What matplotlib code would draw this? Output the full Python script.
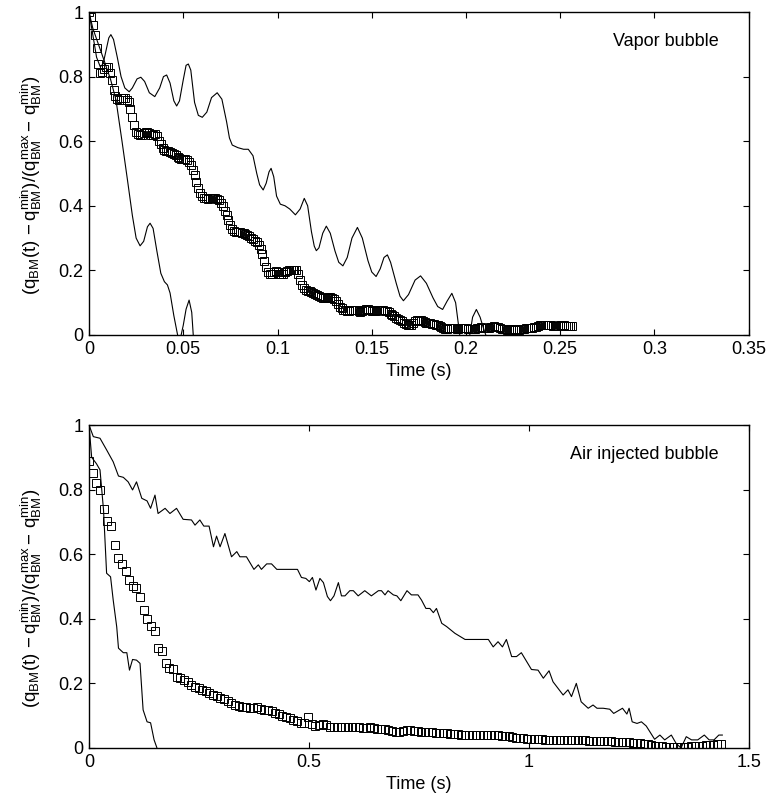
import numpy as np
import matplotlib
matplotlib.use("Agg")
import matplotlib.pyplot as plt
from matplotlib.ticker import FuncFormatter

plt.rcParams['font.family'] = ['Liberation Sans', 'DejaVu Sans']
plt.rcParams['mathtext.fontset'] = 'custom'
plt.rcParams['mathtext.rm'] = 'Liberation Sans'
plt.rcParams['mathtext.it'] = 'Liberation Sans'
plt.rcParams['mathtext.bf'] = 'Liberation Sans:bold'

# ---- top panel: vapor bubble ----
# measured (squares), sampled every 1 ms
vap_dt = 0.001
vap_meas = [
    1.00, 0.985, 0.96, 0.93, 0.89, 0.84, 0.81, 0.815, 0.825, 0.83,
    0.83, 0.81, 0.79, 0.76, 0.74, 0.73, 0.728, 0.733, 0.735, 0.733,
    0.728, 0.72, 0.70, 0.675, 0.65, 0.63, 0.622, 0.618, 0.62, 0.625,
    0.628, 0.628, 0.625, 0.62, 0.62, 0.622, 0.615, 0.60, 0.59, 0.578,
    0.572, 0.57, 0.57, 0.568, 0.565, 0.56, 0.556, 0.552, 0.548, 0.546,
    0.545, 0.545, 0.542, 0.535, 0.525, 0.51, 0.495, 0.475, 0.455, 0.44,
    0.43, 0.425, 0.423, 0.422, 0.423, 0.425, 0.425, 0.423, 0.42, 0.418,
    0.41, 0.40, 0.385, 0.37, 0.355, 0.34, 0.328, 0.322, 0.32, 0.32,
    0.318, 0.316, 0.315, 0.312, 0.31, 0.305, 0.30, 0.296, 0.292, 0.288,
    0.28, 0.265, 0.25, 0.23, 0.21, 0.195, 0.19, 0.19, 0.195, 0.198,
    0.195, 0.19, 0.188, 0.19, 0.195, 0.198, 0.2, 0.2, 0.202, 0.2,
    0.2, 0.19, 0.17, 0.155, 0.145, 0.14, 0.137, 0.135, 0.132, 0.13,
    0.128, 0.125, 0.122, 0.118, 0.115, 0.113, 0.115, 0.118, 0.118, 0.115,
    0.11, 0.105, 0.095, 0.088, 0.082, 0.078, 0.076, 0.075, 0.075, 0.076,
    0.078, 0.078, 0.076, 0.073, 0.072, 0.074, 0.077, 0.079, 0.079, 0.077,
    0.075, 0.074, 0.075, 0.077, 0.078, 0.078, 0.077, 0.075, 0.073, 0.07,
    0.066, 0.062, 0.058, 0.054, 0.05, 0.046, 0.042, 0.038, 0.034, 0.031,
    0.03, 0.032, 0.037, 0.042, 0.045, 0.046, 0.045, 0.043, 0.04, 0.038,
    0.037, 0.036, 0.035, 0.034, 0.032, 0.03, 0.027, 0.025, 0.022, 0.02,
    0.02, 0.021, 0.022, 0.022, 0.021, 0.02, 0.02, 0.021, 0.022, 0.022,
    0.021, 0.02, 0.019, 0.018, 0.018, 0.019, 0.021, 0.023, 0.024, 0.023,
    0.022, 0.021, 0.022, 0.024, 0.026, 0.027, 0.026, 0.024, 0.022, 0.02,
    0.018, 0.017, 0.016, 0.016, 0.016, 0.017, 0.017, 0.016, 0.016, 0.017,
    0.018, 0.02, 0.022, 0.023, 0.023, 0.023, 0.024, 0.026, 0.028, 0.03,
    0.031, 0.032, 0.032, 0.031, 0.03, 0.03, 0.029, 0.028, 0.028, 0.029,
    0.03, 0.03, 0.03, 0.029, 0.029, 0.029, 0.029,
]

# slow model curve
vap_slow_t = [
    0, 0.002, 0.004, 0.006, 0.0075, 0.009, 0.0105, 0.0116, 0.013, 0.015,
    0.017, 0.019, 0.0213, 0.023, 0.0255, 0.0275, 0.0295, 0.032, 0.0349, 0.0375,
    0.0395, 0.0412, 0.043, 0.045, 0.0465, 0.048, 0.050, 0.0515, 0.0527, 0.054,
    0.056, 0.058, 0.0601, 0.0625, 0.065, 0.068, 0.0705, 0.073, 0.0745, 0.076,
    0.079, 0.082, 0.0845, 0.087, 0.089, 0.0905, 0.0924, 0.094, 0.0955, 0.0966,
    0.098, 0.0995, 0.1015, 0.104, 0.1065, 0.1095, 0.112, 0.1142, 0.116, 0.118,
    0.1195, 0.1206, 0.122, 0.124, 0.1259, 0.128, 0.1305, 0.1325, 0.1347, 0.137,
    0.1395, 0.1424, 0.145, 0.148, 0.150, 0.1523, 0.1545, 0.1565, 0.1583, 0.160,
    0.163, 0.165, 0.1668, 0.1695, 0.173, 0.1759, 0.179, 0.1825, 0.185, 0.1876,
    0.190, 0.1925, 0.1945, 0.1967, 0.199, 0.2005, 0.202, 0.2035, 0.2055, 0.2075,
    0.209, 0.2105, 0.212,
]
vap_slow = [
    1.0, 0.93, 0.86, 0.83, 0.84, 0.88, 0.92, 0.93, 0.915, 0.86,
    0.80, 0.765, 0.753, 0.765, 0.793, 0.798, 0.785, 0.75, 0.738, 0.765,
    0.80, 0.805, 0.78, 0.725, 0.709, 0.725, 0.79, 0.835, 0.839, 0.82,
    0.72, 0.68, 0.674, 0.69, 0.735, 0.750, 0.73, 0.66, 0.61, 0.588,
    0.58, 0.575, 0.575, 0.555, 0.50, 0.465, 0.449, 0.47, 0.505, 0.516,
    0.49, 0.43, 0.405, 0.400, 0.39, 0.372, 0.39, 0.423, 0.40, 0.32,
    0.275, 0.261, 0.27, 0.315, 0.337, 0.315, 0.26, 0.225, 0.214, 0.24,
    0.30, 0.333, 0.30, 0.23, 0.195, 0.181, 0.205, 0.24, 0.248, 0.225,
    0.16, 0.12, 0.106, 0.125, 0.17, 0.183, 0.16, 0.115, 0.088, 0.079,
    0.105, 0.129, 0.10, 0.0, -0.05, -0.02, 0.0, 0.055, 0.079, 0.055,
    0.026, 0.0, -0.03,
]

# fast model curve
vap_fast_t = [
    0, 0.002, 0.005, 0.008, 0.0115, 0.0143, 0.0175, 0.0204, 0.023, 0.025,
    0.0271, 0.029, 0.031, 0.0324, 0.034, 0.036, 0.0381, 0.040, 0.0416, 0.043,
    0.045, 0.047, 0.0485, 0.050, 0.0515, 0.0531, 0.0545, 0.0553, 0.056,
]
vap_fast = [
    1.0, 0.95, 0.90, 0.85, 0.79, 0.728, 0.60, 0.48, 0.37, 0.30,
    0.276, 0.29, 0.335, 0.346, 0.33, 0.26, 0.191, 0.165, 0.155, 0.13,
    0.06, 0.0, -0.01, 0.03, 0.08, 0.108, 0.07, 0.0, -0.05,
]

# ---- bottom panel: air injected bubble ----
air_dt = 0.0083
air_meas = [
    0.889, 0.852, 0.82, 0.80, 0.739, 0.704, 0.687, 0.627, 0.587, 0.571,
    0.549, 0.52, 0.502, 0.494, 0.466, 0.427, 0.40, 0.378, 0.362, 0.311,
    0.301, 0.262, 0.247, 0.243, 0.221, 0.216, 0.212, 0.205, 0.195, 0.19,
    0.185, 0.18, 0.176, 0.171, 0.165, 0.16, 0.156, 0.151, 0.145, 0.139,
    0.134, 0.129, 0.126, 0.126, 0.124, 0.123, 0.126, 0.122, 0.119, 0.118,
    0.113, 0.109, 0.105, 0.099, 0.096, 0.092, 0.088, 0.083, 0.078, 0.076,
    0.097, 0.074, 0.069, 0.072, 0.073, 0.07, 0.065, 0.064, 0.066, 0.065,
    0.064, 0.066, 0.066, 0.066, 0.066, 0.063, 0.062, 0.064, 0.061, 0.06,
    0.059, 0.058, 0.056, 0.054, 0.051, 0.051, 0.054, 0.056, 0.056, 0.054,
    0.052, 0.051, 0.05, 0.05, 0.049, 0.047, 0.047, 0.046, 0.045, 0.043,
    0.042, 0.042, 0.041, 0.041, 0.04, 0.04, 0.04, 0.04, 0.04, 0.04,
    0.04, 0.039, 0.039, 0.038, 0.037, 0.036, 0.034, 0.032, 0.031, 0.03,
    0.029, 0.028, 0.027, 0.027, 0.027, 0.026, 0.026, 0.026, 0.026, 0.025,
    0.025, 0.025, 0.025, 0.025, 0.024, 0.024, 0.024, 0.023, 0.023, 0.023,
    0.022, 0.022, 0.022, 0.021, 0.02, 0.019, 0.018, 0.018, 0.017, 0.016,
    0.016, 0.015, 0.013, 0.011, 0.009, 0.007, 0.006, 0.005, 0.004, 0.003,
    0.003, 0.002, 0.002, 0.003, 0.004, 0.005, 0.006, 0.006, 0.007, 0.008,
    0.009, 0.01, 0.011, 0.012,
]

air_slow_t = [
    0, 0.0098, 0.025, 0.04, 0.055, 0.067, 0.078, 0.089, 0.099, 0.108,
    0.12, 0.132, 0.14, 0.15, 0.157, 0.173, 0.184, 0.199, 0.214, 0.233,
    0.241, 0.252, 0.261, 0.273, 0.283, 0.29, 0.298, 0.309, 0.324, 0.336,
    0.343, 0.358, 0.375, 0.385, 0.392, 0.404, 0.415, 0.427, 0.474, 0.483,
    0.493, 0.501, 0.508, 0.516, 0.525, 0.533, 0.542, 0.549, 0.557, 0.567,
    0.574, 0.582, 0.593, 0.601, 0.612, 0.627, 0.642, 0.658, 0.665, 0.673,
    0.68, 0.692, 0.70, 0.709, 0.723, 0.733, 0.748, 0.756, 0.766, 0.775,
    0.783, 0.79, 0.802, 0.813, 0.832, 0.855, 0.908, 0.919, 0.93, 0.94,
    0.949, 0.961, 0.972, 0.983, 1.006, 1.021, 1.033, 1.046, 1.055, 1.078,
    1.089, 1.097, 1.108, 1.119, 1.135, 1.146, 1.155, 1.169, 1.184, 1.193,
    1.203, 1.213, 1.223, 1.228, 1.235, 1.246, 1.256, 1.267, 1.286, 1.298,
    1.309, 1.324, 1.335, 1.346, 1.358, 1.37, 1.384, 1.399, 1.41, 1.421,
    1.432, 1.44,
]
air_slow = [
    1.0, 0.964, 0.959, 0.923, 0.886, 0.842, 0.838, 0.824, 0.799, 0.824,
    0.773, 0.765, 0.742, 0.783, 0.726, 0.742, 0.726, 0.742, 0.708, 0.706,
    0.690, 0.706, 0.687, 0.687, 0.623, 0.656, 0.623, 0.664, 0.592, 0.608,
    0.592, 0.592, 0.553, 0.567, 0.553, 0.57, 0.57, 0.553, 0.553, 0.528,
    0.525, 0.515, 0.528, 0.489, 0.525, 0.512, 0.469, 0.456, 0.471, 0.512,
    0.471, 0.471, 0.487, 0.487, 0.471, 0.487, 0.471, 0.487, 0.487, 0.474,
    0.487, 0.474, 0.471, 0.456, 0.487, 0.474, 0.474, 0.458, 0.432, 0.432,
    0.419, 0.432, 0.386, 0.376, 0.355, 0.336, 0.336, 0.313, 0.329, 0.313,
    0.336, 0.283, 0.283, 0.295, 0.243, 0.241, 0.216, 0.239, 0.205, 0.164,
    0.18, 0.159, 0.2, 0.143, 0.123, 0.133, 0.123, 0.123, 0.12, 0.107,
    0.115, 0.123, 0.105, 0.123, 0.081, 0.076, 0.081, 0.068, 0.027, 0.04,
    0.025, 0.04, 0.014, 0.0, 0.035, 0.025, 0.025, 0.04, 0.025, 0.025,
    0.04, 0.04,
]

air_fast_t = [
    0, 0.006, 0.017, 0.025, 0.033, 0.04, 0.049, 0.055, 0.063, 0.067,
    0.078, 0.086, 0.092, 0.099, 0.108, 0.116, 0.123, 0.132, 0.14, 0.148,
    0.154, 0.158,
]
air_fast = [
    1.0, 0.90, 0.88, 0.861, 0.737, 0.541, 0.530, 0.458, 0.375, 0.309,
    0.295, 0.295, 0.241, 0.274, 0.272, 0.262, 0.118, 0.081, 0.078, 0.025,
    0.002, -0.02,
]

ylab = r'$(\mathrm{q_{BM}(t)\,-q_{BM}^{min})/(q_{BM}^{max}-\,q_{BM}^{min}})$'


def style_axes(ax, xmax, xticks, label):
    ax.set_xlim(0, xmax)
    ax.set_ylim(0, 1)
    ax.set_xticks(xticks)
    ax.set_yticks([0, 0.2, 0.4, 0.6, 0.8, 1])
    fmt = FuncFormatter(lambda v, p: ('%g' % round(v, 3)))
    ax.xaxis.set_major_formatter(fmt)
    ax.yaxis.set_major_formatter(fmt)
    ax.tick_params(direction='in', top=True, right=True, length=4,
                   width=0.8, labelsize=13, pad=4)
    for s in ax.spines.values():
        s.set_linewidth(1.0)
    ax.set_xlabel('Time (s)', fontsize=13, labelpad=4)
    ax.set_ylabel(ylab, fontsize=13.5)
    ax.yaxis.set_label_coords(-0.068, 0.465)
    ax.text(0.955, 0.91, label, transform=ax.transAxes, ha='right',
            va='center', fontsize=13)


fig = plt.figure(figsize=(7.68, 8.01), dpi=100)
ax1 = fig.add_axes([0.1159, 0.5818, 0.859, 0.4032])
ax2 = fig.add_axes([0.1159, 0.0662, 0.859, 0.4032])

vap_t = np.arange(len(vap_meas)) * vap_dt
ax1.plot(vap_slow_t, vap_slow, color='black', lw=0.8)
ax1.plot(vap_fast_t, vap_fast, color='black', lw=0.8)
ax1.plot(vap_t, vap_meas, ls='none', marker='s', ms=6.3, mfc='none',
         mec='black', mew=0.7)
style_axes(ax1, 0.35, [0, 0.05, 0.1, 0.15, 0.2, 0.25, 0.3, 0.35], 'Vapor bubble')

air_t = np.arange(len(air_meas)) * air_dt
ax2.plot(air_slow_t, air_slow, color='black', lw=0.8)
ax2.plot(air_fast_t, air_fast, color='black', lw=0.8)
ax2.plot(air_t, air_meas, ls='none', marker='s', ms=6.3, mfc='none',
         mec='black', mew=0.7)
style_axes(ax2, 1.5, [0, 0.5, 1, 1.5], 'Air injected bubble')

fig.savefig('out.png', dpi=100)
